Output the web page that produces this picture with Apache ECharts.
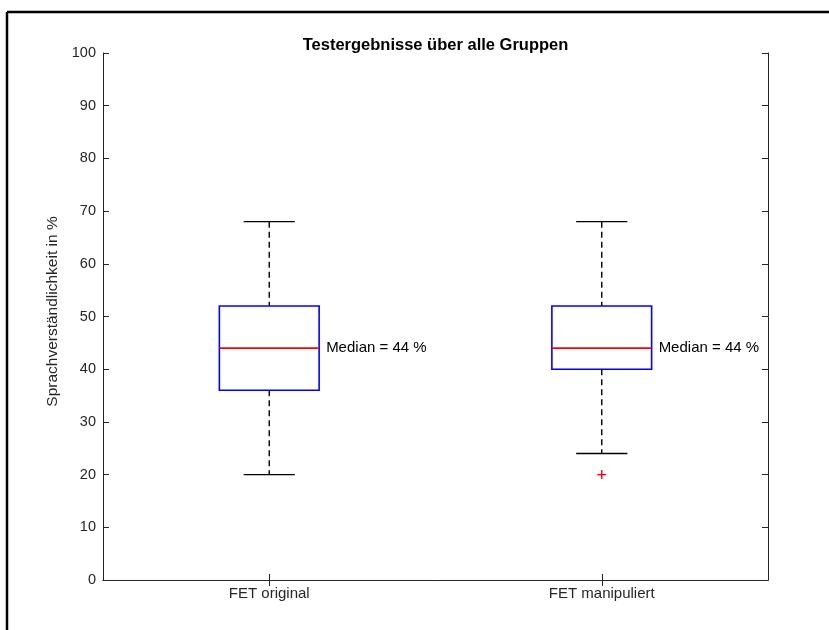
<!DOCTYPE html>
<html>
<head>
<meta charset="utf-8">
<script src="https://cdn.jsdelivr.net/npm/echarts@6/dist/echarts.min.js"></script>
<style>
  html, body { margin: 0; padding: 0; background: #fff; }
  #chart { width: 829px; height: 630px; }
</style>
</head>
<body>
<div id="chart"></div>
<script>
// Groups and five-number summaries (percent)
const categories = ['FET original', 'FET manipuliert'];
const whiskerLow = [20, 24];
const q1 = [36, 40];
const median = [44, 44];
const q3 = [52, 52];
const whiskerHigh = [68, 68];
// Outliers as [groupIndex, value]
const outliers = [[1, 20]];
const yTicks = [0, 10, 20, 30, 40, 50, 60, 70, 80, 90, 100];

const FONT = '"Liberation Sans", Arial, Helvetica, sans-serif';
const AXIS_COLOR = '#262626';

const boxData = categories.map((c, i) => [i, whiskerLow[i], q1[i], median[i], q3[i], whiskerHigh[i]]);

function renderBox(params, api) {
  const i = api.value(0);
  const bandW = api.size([1, 0])[0];
  const boxW = bandW * 0.30;
  const capW = bandW * 0.154;
  const pLow = api.coord([i, api.value(1)]);
  const pQ1 = api.coord([i, api.value(2)]);
  const pMed = api.coord([i, api.value(3)]);
  const pQ3 = api.coord([i, api.value(4)]);
  const pHigh = api.coord([i, api.value(5)]);
  const cx = pMed[0];
  const dash = { stroke: '#000', lineWidth: 1.4, lineDash: [6, 4] };
  const solid = { stroke: '#000', lineWidth: 1.4 };
  return {
    type: 'group',
    children: [
      { type: 'line', shape: { x1: cx, y1: pHigh[1], x2: cx, y2: pQ3[1] }, style: dash },
      { type: 'line', shape: { x1: cx, y1: pQ1[1], x2: cx, y2: pLow[1] }, style: dash },
      { type: 'line', shape: { x1: cx - capW / 2, y1: pHigh[1], x2: cx + capW / 2, y2: pHigh[1] }, style: solid },
      { type: 'line', shape: { x1: cx - capW / 2, y1: pLow[1], x2: cx + capW / 2, y2: pLow[1] }, style: solid },
      { type: 'rect', shape: { x: cx - boxW / 2, y: pQ3[1], width: boxW, height: pQ1[1] - pQ3[1] },
        style: { fill: 'none', stroke: '#0000ff', lineWidth: 1.6 } },
      { type: 'line', shape: { x1: cx - boxW / 2, y1: pMed[1], x2: cx + boxW / 2, y2: pMed[1] },
        style: { stroke: '#ff0000', lineWidth: 1.6 } },
      { type: 'text', x: cx + boxW / 2 + 7, y: pMed[1],
        style: { text: 'Median = ' + api.value(3) + ' %', fill: '#000', font: '15px ' + FONT,
                 textAlign: 'left', textVerticalAlign: 'middle' } }
    ]
  };
}

function renderOutlier(params, api) {
  const p = api.coord([api.value(0), api.value(1)]);
  const h = 4.5;
  const st = { stroke: '#ff0000', lineWidth: 1.4 };
  return {
    type: 'group',
    children: [
      { type: 'line', shape: { x1: p[0] - h, y1: p[1], x2: p[0] + h, y2: p[1] }, style: st },
      { type: 'line', shape: { x1: p[0], y1: p[1] - h, x2: p[0], y2: p[1] + h }, style: st }
    ]
  };
}

const chart = echarts.init(document.getElementById('chart'), null, { renderer: 'canvas' });
const axisLine = { show: true, lineStyle: { color: AXIS_COLOR, width: 1 } };
const tickIn = { show: true, inside: true, length: 6, lineStyle: { color: AXIS_COLOR, width: 1 } };

chart.setOption({
  animation: false,
  backgroundColor: '#fff',
  title: {
    text: 'Testergebnisse über alle Gruppen',
    left: 430.5, top: 32, textAlign: 'center',
    textStyle: { fontFamily: FONT, fontSize: 16.5, fontWeight: 'bold', color: '#000' }
  },
  grid: { left: 103, right: 61, top: 53, bottom: 50 },
  xAxis: [
    {
      type: 'category', data: categories, position: 'bottom', boundaryGap: true,
      axisLine, axisTick: Object.assign({ alignWithLabel: true }, tickIn),
      axisLabel: { color: AXIS_COLOR, fontFamily: FONT, fontSize: 15, margin: 6 },
      splitLine: { show: false }
    },
    {
      type: 'category', data: categories, position: 'top', boundaryGap: true,
      axisLine, axisTick: Object.assign({ alignWithLabel: true }, tickIn),
      axisLabel: { show: false }, splitLine: { show: false }
    }
  ],
  yAxis: [
    {
      type: 'value', min: yTicks[0], max: yTicks[yTicks.length - 1], interval: 10, position: 'left',
      name: 'Sprachverständlichkeit in %', nameLocation: 'middle', nameGap: 38,
      nameTextStyle: { color: AXIS_COLOR, fontFamily: FONT, fontSize: 15.5, padding: [0, 0, 0, 10] },
      axisLine, axisTick: tickIn,
      axisLabel: { color: AXIS_COLOR, fontFamily: FONT, fontSize: 14.5, margin: 7 },
      splitLine: { show: false }
    },
    {
      type: 'value', min: yTicks[0], max: yTicks[yTicks.length - 1], interval: 10, position: 'right',
      axisLine, axisTick: tickIn, axisLabel: { show: false }, splitLine: { show: false }
    }
  ],
  series: [
    { type: 'custom', renderItem: renderBox, data: boxData, encode: { x: 0, y: [1, 2, 3, 4, 5] }, clip: false },
    { type: 'custom', renderItem: renderOutlier, data: outliers, encode: { x: 0, y: 1 }, clip: false }
  ],
  graphic: [
    { type: 'line', shape: { x1: 7, y1: 12, x2: 829, y2: 12 }, style: { stroke: '#000', lineWidth: 2.5 } },
    { type: 'line', shape: { x1: 7, y1: 12, x2: 7, y2: 630 }, style: { stroke: '#000', lineWidth: 2.5 } }
  ]
});
</script>
</body>
</html>
